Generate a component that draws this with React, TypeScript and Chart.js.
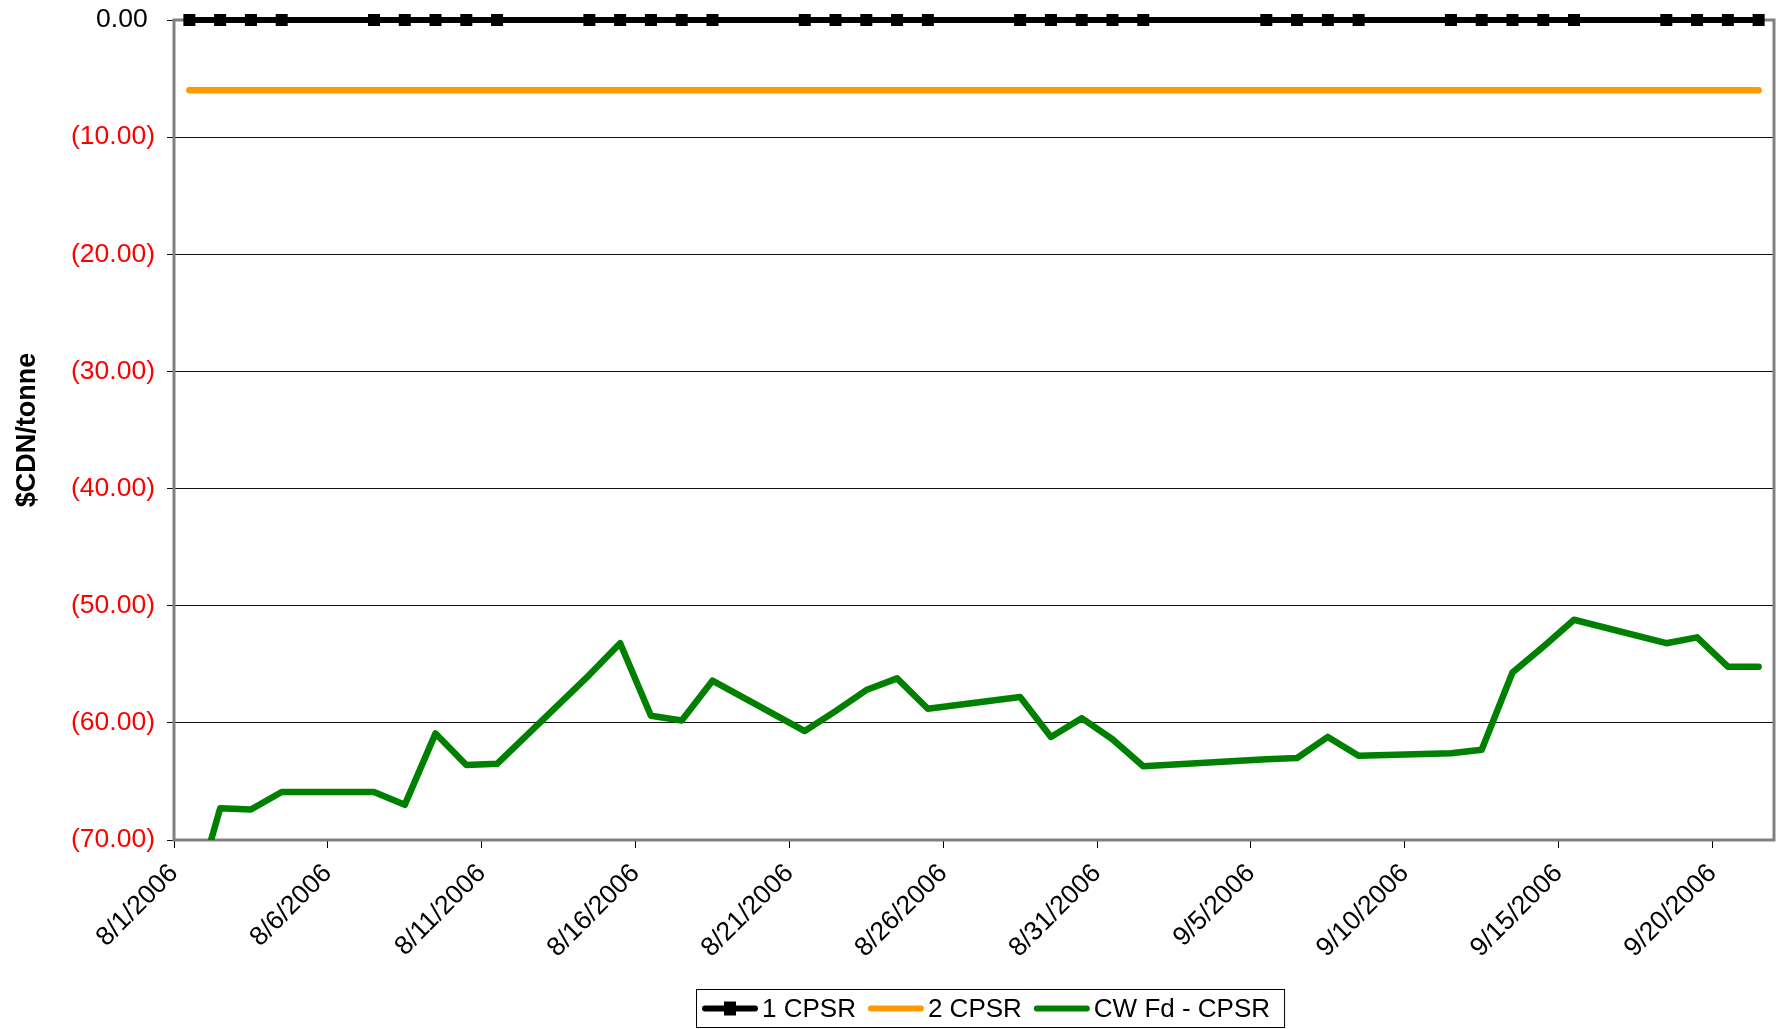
import React, { useEffect, useRef } from 'react';
import { Chart, registerables } from 'chart.js';

Chart.register(...registerables);

// ---- data ----
const tradeDates = [
  '8/1/2006', '8/2/2006', '8/3/2006', '8/4/2006',
  '8/7/2006', '8/8/2006', '8/9/2006', '8/10/2006', '8/11/2006',
  '8/14/2006', '8/15/2006', '8/16/2006', '8/17/2006', '8/18/2006',
  '8/21/2006', '8/22/2006', '8/23/2006', '8/24/2006', '8/25/2006',
  '8/28/2006', '8/29/2006', '8/30/2006', '8/31/2006', '9/1/2006',
  '9/5/2006', '9/6/2006', '9/7/2006', '9/8/2006',
  '9/11/2006', '9/12/2006', '9/13/2006', '9/14/2006', '9/15/2006',
  '9/18/2006', '9/19/2006', '9/20/2006', '9/21/2006',
];

const cpsr1 = [
  0, 0, 0, 0,
  0, 0, 0, 0, 0,
  0, 0, 0, 0, 0,
  0, 0, 0, 0, 0,
  0, 0, 0, 0, 0,
  0, 0, 0, 0,
  0, 0, 0, 0, 0,
  0, 0, 0, 0,
];

const cpsr2 = [
  -6, -6, -6, -6,
  -6, -6, -6, -6, -6,
  -6, -6, -6, -6, -6,
  -6, -6, -6, -6, -6,
  -6, -6, -6, -6, -6,
  -6, -6, -6, -6,
  -6, -6, -6, -6, -6,
  -6, -6, -6, -6,
];

const cwFdCpsr = [
  -76.5, -67.3, -67.4, -65.9,
  -65.9, -67.0, -60.9, -63.6, -63.5,
  -55.9, -53.2, -59.4, -59.8, -56.4,
  -60.7, -59.0, -57.2, -56.2, -58.8,
  -57.8, -61.2, -59.6, -61.4, -63.7,
  -63.1, -63.0, -61.2, -62.8,
  -62.6, -62.3, -55.7, -53.5, -51.2,
  -53.2, -52.7, -55.2, -55.2,
];

const seriesNames = ['1 CPSR', '2 CPSR', 'CW Fd - CPSR'];
const xTickDates = [
  '8/1/2006', '8/6/2006', '8/11/2006', '8/16/2006', '8/21/2006', '8/26/2006',
  '8/31/2006', '9/5/2006', '9/10/2006', '9/15/2006', '9/20/2006',
];
const yTickValues = [0, -10, -20, -30, -40, -50, -60, -70];
const axisStartDate = '8/1/2006';
const axisEndDate = '9/22/2006';
const yTitle = '$CDN/tonne';

// ---- helpers ----
function toUTC(s: string): number {
  const [m, d, y] = s.split('/').map(Number);
  return Date.UTC(y, m - 1, d);
}
const base = toUTC(axisStartDate);
function dayIndex(s: string): number {
  return (toUTC(s) - base) / 86400000;
}
function pts(values: number[]) {
  return values.map((v, i) => ({ x: dayIndex(tradeDates[i]) + 0.5, y: v }));
}
function fmtY(v: number): string {
  if (v < 0) return '(' + Math.abs(v).toFixed(2) + ')';
  return v.toFixed(2) + '\u00A0';
}

const FONT = "Arial, 'Liberation Sans', sans-serif";
const W = 1784;
const H = 1029;

export default function App() {
  const ref = useRef<HTMLCanvasElement | null>(null);

  useEffect(() => {
    document.body.style.margin = '0';
    document.body.style.overflow = 'hidden';
    const canvas = ref.current;
    if (!canvas) return;

    const borderPlugin = {
      id: 'plotBorder',
      beforeDatasetsDraw(chart: any) {
        const { ctx, chartArea } = chart;
        ctx.save();
        ctx.strokeStyle = '#808080';
        ctx.lineWidth = 3;
        ctx.strokeRect(chartArea.left, chartArea.top, chartArea.right - chartArea.left, chartArea.bottom - chartArea.top);
        ctx.restore();
      },
    };

    const legendPlugin = {
      id: 'boxLegend',
      afterDraw(chart: any) {
        const ctx = chart.ctx;
        ctx.save();
        ctx.font = `26px ${FONT}`;
        const boxX = 696, boxY = 989, boxH = 39;
        const cy = boxY + boxH / 2;
        let x = 702;
        const lineLen = 56;
        const items: { x0: number; ds: any; tx: number; w: number }[] = [];
        chart.data.datasets.forEach((ds: any) => {
          const w = ctx.measureText(ds.label).width;
          items.push({ x0: x, ds, tx: x + lineLen + 4, w });
          x = x + lineLen + 4 + w + 12;
        });
        const boxW = x - 12 + 14 - boxX;
        ctx.fillStyle = '#fff';
        ctx.fillRect(boxX, boxY, boxW, boxH);
        ctx.strokeStyle = '#000';
        ctx.lineWidth = 1;
        ctx.strokeRect(boxX + 0.5, boxY + 0.5, boxW, boxH - 1);
        items.forEach((it, i) => {
          ctx.strokeStyle = it.ds.borderColor;
          ctx.lineWidth = 6;
          ctx.lineCap = 'round';
          ctx.beginPath();
          ctx.moveTo(it.x0 + 3, cy);
          ctx.lineTo(it.x0 + lineLen - 3, cy);
          ctx.stroke();
          if (i === 0) {
            ctx.fillStyle = '#000';
            ctx.fillRect(it.x0 + lineLen / 2 - 6, cy - 7, 12, 14);
          }
          ctx.fillStyle = '#000';
          ctx.textBaseline = 'middle';
          ctx.textAlign = 'left';
          ctx.fillText(it.ds.label, it.tx, cy + 1);
        });
        ctx.restore();
      },
    };

    const chart = new Chart(canvas, {
      type: 'line',
      data: {
        datasets: [
          {
            label: seriesNames[0],
            data: pts(cpsr1),
            borderColor: '#000000',
            backgroundColor: '#000000',
            borderWidth: 6,
            pointStyle: 'rect',
            pointRadius: 8.5,
            pointBorderWidth: 0,
            pointBackgroundColor: '#000000',
            clip: false as any,
            tension: 0,
          },
          {
            label: seriesNames[1],
            data: pts(cpsr2),
            borderColor: '#FF9900',
            backgroundColor: '#FF9900',
            borderWidth: 6.5,
            pointRadius: 0,
            borderCapStyle: 'round',
            tension: 0,
          },
          {
            label: seriesNames[2],
            data: pts(cwFdCpsr),
            borderColor: '#008000',
            backgroundColor: '#008000',
            borderWidth: 6.5,
            pointRadius: 0,
            borderCapStyle: 'round',
            borderJoinStyle: 'round',
            clip: { left: 10, top: 10, right: 10, bottom: 0 } as any,
            tension: 0,
          },
        ],
      },
      options: {
        animation: false,
        responsive: false,
        devicePixelRatio: 1,
        events: [],
        layout: { padding: { top: 20, right: 10, bottom: 0, left: 0 } },
        plugins: {
          legend: { display: false },
          tooltip: { enabled: false },
        },
        scales: {
          x: {
            type: 'linear',
            min: 0,
            max: dayIndex(axisEndDate),
            afterBuildTicks: (s: any) => {
              s.ticks = xTickDates.map((d) => ({ value: dayIndex(d) }));
            },
            afterFit: (s: any) => {
              s.height = 189;
              s.paddingLeft = 0;
              s.paddingRight = 0;
              s.paddingTop = 0;
              s.paddingBottom = 0;
            },
            border: { display: false },
            grid: {
              drawOnChartArea: false,
              drawTicks: true,
              tickLength: 8,
              color: '#000',
              lineWidth: 1,
            },
            ticks: {
              autoSkip: false,
              minRotation: 45,
              maxRotation: 45,
              padding: 10,
              color: '#000',
              font: { family: FONT, size: 26.5 },
              callback: (v: any) => {
                const d = xTickDates.find((t) => dayIndex(t) === Number(v));
                return d || '';
              },
            },
          },
          y: {
            type: 'linear',
            min: -70,
            max: 0,
            afterBuildTicks: (s: any) => {
              s.ticks = yTickValues.map((v) => ({ value: v }));
            },
            afterFit: (s: any) => {
              s.width = 174;
              s.paddingLeft = 0;
              s.paddingRight = 0;
              s.paddingTop = 0;
              s.paddingBottom = 0;
            },
            border: { display: false },
            grid: {
              color: '#111',
              lineWidth: 1,
              tickLength: 7,
            },
            ticks: {
              padding: 12,
              font: { family: FONT, size: 26.5 },
              color: (c: any) => (c.tick && c.tick.value === 0 ? '#000000' : '#FF0000'),
              callback: (v: any) => fmtY(Number(v)),
            },
            title: {
              display: true,
              text: yTitle,
              color: '#000',
              font: { family: FONT, size: 27, weight: 'bold' },
              padding: { top: 11, bottom: 0 },
            },
          },
        },
      },
      plugins: [borderPlugin, legendPlugin],
    } as any);

    return () => chart.destroy();
  }, []);

  return (
    <div style={{ width: W, height: H, background: '#fff' }}>
      <canvas ref={ref} width={W} height={H} style={{ display: 'block', width: W, height: H }} />
    </div>
  );
}
